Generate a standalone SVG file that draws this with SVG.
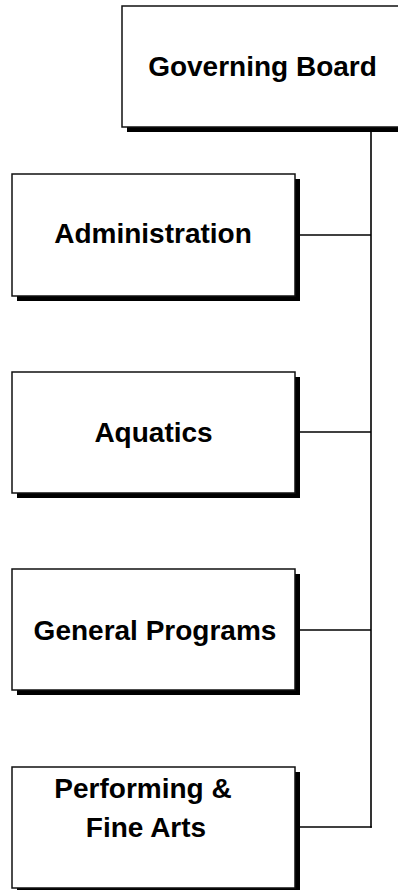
<svg xmlns="http://www.w3.org/2000/svg" width="398" height="890" viewBox="0 0 398 890">
  <style>
    .shadow { fill: #000; }
    .box { fill: #fff; stroke: #111; stroke-width: 1.5; }
    .label { font-family: "Liberation Sans", Arial, sans-serif; font-weight: bold; font-size: 28px; fill: #000; text-anchor: middle; }
    .conn { stroke: #000; stroke-width: 1.6; fill: none; }
  </style>
  <rect width="398" height="890" fill="#fff"/>
  <g id="connectors">
    <line class="conn" x1="371" y1="130" x2="371" y2="827.8"/>
    <line class="conn" x1="295" y1="235" x2="371" y2="235"/>
    <line class="conn" x1="295" y1="432" x2="371" y2="432"/>
    <line class="conn" x1="295" y1="630" x2="371" y2="630"/>
    <line class="conn" x1="295" y1="827" x2="371.8" y2="827"/>
  </g>
  <g id="governing-board">
    <rect class="shadow" x="127" y="11" width="283" height="121"/>
    <rect class="box" x="122" y="6" width="283" height="121"/>
    <text class="label" x="262.5" y="76">Governing Board</text>
  </g>
  <g id="administration">
    <rect class="shadow" x="17" y="179" width="283" height="122"/>
    <rect class="box" x="12" y="174" width="283" height="122"/>
    <text class="label" x="153" y="243">Administration</text>
  </g>
  <g id="aquatics">
    <rect class="shadow" x="17" y="377" width="283" height="121"/>
    <rect class="box" x="12" y="372" width="283" height="121"/>
    <text class="label" x="153.5" y="442">Aquatics</text>
  </g>
  <g id="general-programs">
    <rect class="shadow" x="17" y="574" width="283" height="121"/>
    <rect class="box" x="12" y="569" width="283" height="121"/>
    <text class="label" x="155" y="640">General Programs</text>
  </g>
  <g id="performing-fine-arts">
    <rect class="shadow" x="17" y="772" width="283" height="121"/>
    <rect class="box" x="12" y="767" width="283" height="121"/>
    <text class="label" x="143" y="798">Performing &amp;</text>
    <text class="label" x="146" y="837">Fine Arts</text>
  </g>
</svg>
